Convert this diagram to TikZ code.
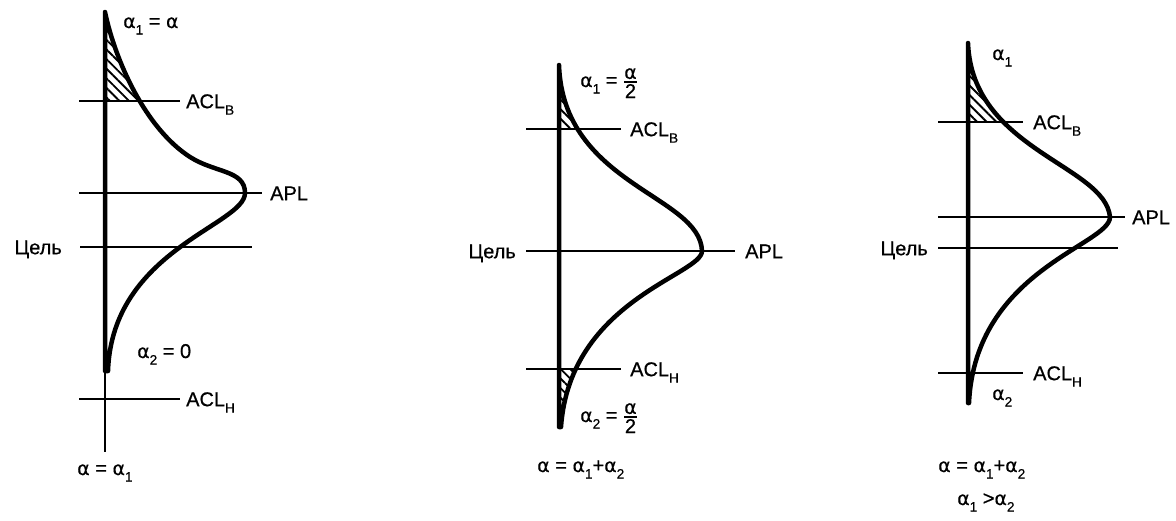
\documentclass[tikz,border=0pt]{standalone}
\usepackage{amsmath}
\usepackage{fontspec}
\setmainfont{Liberation Sans}[FakeBold=0.6]
\newfontfamily\grkfont{DejaVu Sans}[FakeBold=0.4]
\usetikzlibrary{patterns.meta}
\newcommand{\al}{{\grkfont\fontsize{19}{22}\selectfont α}}
\newcommand{\lsub}[1]{\raisebox{-6.5pt}{\fontsize{13.5}{14}\selectfont #1}}
\newcommand{\halffrac}{\genfrac{}{}{1.5pt}{}{\mbox{\al}}{\mbox{2}}}
\begin{document}
\begin{tikzpicture}[x=1pt,y=-1pt,
  font=\fontsize{20}{22}\selectfont,
  curve/.style={line width=4.5pt,line join=round,line cap=round},
  hline/.style={line width=2.6pt},
  thinaxis/.style={line width=1.5pt},
  lbl/.style={inner sep=0pt,anchor=base west,yshift=-7.2pt},
  lblr/.style={inner sep=0pt,anchor=base east,yshift=-7.2pt},
  txt/.style={inner sep=0pt,anchor=base west},
  hatch/.style={pattern={Lines[angle=-45,distance=6.8pt,line width=1.9pt]}}]
\useasboundingbox (0,0) rectangle (1176,520);

% ================= Diagram 1 =================
\begin{scope}
  \clip (105,371) -- (105,12) .. controls (115,60) and (145,128) .. (190,157)
     .. controls (215,173) and (245,170) .. (245,193)
     .. controls (245,225) and (112,250) .. (108,371) -- cycle;
  \fill[hatch] (100,5) rectangle (200,101);
\end{scope}
\coordinate (a1top) at (105,12);
\coordinate (a1bot) at (105,452);
\draw[thinaxis] (a1top) -- (a1bot);
\coordinate (a1bL) at (79,101);  \coordinate (a1bR) at (180,101);
\coordinate (a1pL) at (79,193);  \coordinate (a1pR) at (262,193);
\coordinate (a1cL) at (80,247);  \coordinate (a1cR) at (252,247);
\coordinate (a1hL) at (79,399);  \coordinate (a1hR) at (180,399);
\draw[hline] (a1bL) -- (a1bR);
\draw[hline] (a1pL) -- (a1pR);
\draw[hline] (a1cL) -- (a1cR);
\draw[hline] (a1hL) -- (a1hR);
\draw[curve] (105,371) -- (105,12) .. controls (115,60) and (145,128) .. (190,157)
     .. controls (215,173) and (245,170) .. (245,193)
     .. controls (245,225) and (112,250) .. (108,371) -- cycle;
\node[txt] (a1alpha) at (123,28) {\al\lsub{1} = \al};
\node[lbl] (a1bT) at ([xshift=6]a1bR) {ACL\lsub{В}};
\node[lbl] (a1pT) at ([xshift=8]a1pR) {APL};
\node[lblr] (a1cT) at ([xshift=-18]a1cL) {Цель};
\node[txt] (a1alpha2) at (137,358) {\al\lsub{2} = 0};
\node[lbl] (a1hT) at ([xshift=6]a1hR) {ACL\lsub{Н}};
\node[txt] (a1sum) at (77,475) {\al{} = \al\lsub{1}};

% ================= Diagram 2 =================
\begin{scope}
  \clip (559,427) -- (559,65) .. controls (563,185) and (700,195) .. (702,251)
     .. controls (702,275) and (570,300) .. (561,427) -- cycle;
  \fill[hatch] (550,55) rectangle (620,129);
  \fill[hatch] (550,369) rectangle (620,440);
\end{scope}
\coordinate (a2bL) at (526,129);  \coordinate (a2bR) at (621,129);
\coordinate (a2pL) at (526,251);  \coordinate (a2pR) at (735,251);
\coordinate (a2hL) at (526,369);  \coordinate (a2hR) at (621,369);
\draw[hline] (a2bL) -- (a2bR);
\draw[hline] (a2pL) -- (a2pR);
\draw[hline] (a2hL) -- (a2hR);
\draw[curve] (559,427) -- (559,65) .. controls (563,185) and (700,195) .. (702,251)
     .. controls (702,275) and (570,300) .. (561,427) -- cycle;
\node[txt] (a2alpha1) at (580,87) {\al\lsub{1} = $\halffrac$};
\node[lbl] (a2bT) at ([xshift=9]a2bR) {ACL\lsub{В}};
\node[lblr] (a2cT) at ([xshift=-10]a2pL) {Цель};
\node[lbl] (a2pT) at ([xshift=10]a2pR) {APL};
\node[lbl] (a2hT) at ([xshift=9]a2hR) {ACL\lsub{Н}};
\node[txt] (a2alpha2) at (580,422) {\al\lsub{2} = $\halffrac$};
\node[txt] (a2sum) at (537,472) {\al{} = \al\lsub{1}+\al\lsub{2}};

% ================= Diagram 3 =================
\begin{scope}
  \clip (968,403) -- (968,43) .. controls (972,150) and (1105,165) .. (1110,217)
     .. controls (1110,245) and (975,270) .. (969,403) -- cycle;
  \fill[hatch] (960,35) rectangle (1030,122);
\end{scope}
\coordinate (a3bL) at (938,122);  \coordinate (a3bR) at (1023,122);
\coordinate (a3pL) at (938,217);  \coordinate (a3pR) at (1125,217);
\coordinate (a3cL) at (938,248);  \coordinate (a3cR) at (1118,248);
\coordinate (a3hL) at (938,373);  \coordinate (a3hR) at (1023,373);
\draw[hline] (a3bL) -- (a3bR);
\draw[hline] (a3pL) -- (a3pR);
\draw[hline] (a3cL) -- (a3cR);
\draw[hline] (a3hL) -- (a3hR);
\draw[curve] (968,403) -- (968,43) .. controls (972,150) and (1105,165) .. (1110,217)
     .. controls (1110,245) and (975,270) .. (969,403) -- cycle;
\node[txt] (a3alpha1) at (992,60) {\al\lsub{1}};
\node[lbl] (a3bT) at ([xshift=10]a3bR) {ACL\lsub{В}};
\node[lbl] (a3pT) at ([xshift=7]a3pR) {APL};
\node[lblr] (a3cT) at ([xshift=-10]a3cL) {Цель};
\node[lbl] (a3hT) at ([xshift=10]a3hR) {ACL\lsub{Н}};
\node[txt] (a3alpha2) at (992,400) {\al\lsub{2}};
\node[txt] (a3sum) at (938,472) {\al{} = \al\lsub{1}+\al\lsub{2}};
\node[txt] (a3ineq) at (957,505) {\al\lsub{1} >\al\lsub{2}};
\end{tikzpicture}
\end{document}
